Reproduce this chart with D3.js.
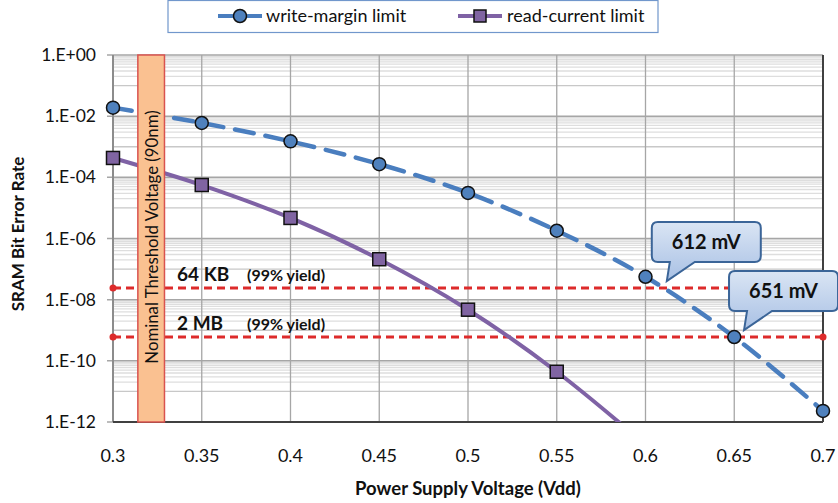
<!DOCTYPE html>
<html><head><meta charset="utf-8">
<script src="https://cdn.jsdelivr.net/npm/d3@7"></script>
<style>
body{margin:0;background:#fff;}
text{font-family:Lato,"Open Sans",sans-serif;}
</style></head>
<body><svg id="c" width="838" height="503"></svg>
<script>
const voltages = [0.3,0.35,0.4,0.45,0.5,0.55,0.6,0.65,0.7];
const writeMargin = [1.9e-2,6e-3,1.5e-3,2.7e-4,3.1e-5,1.8e-6,5.6e-8,6e-10,2.3e-12];
const readVolt = [0.3,0.35,0.4,0.45,0.5,0.55,0.6];
const readCurrent = [4.3e-4,5.6e-5,4.7e-6,2.1e-7,4.7e-9,4.4e-11,1.8e-13];
const xTicks = [0.3,0.35,0.4,0.45,0.5,0.55,0.6,0.65,0.7];
const yTicks = [1,1e-2,1e-4,1e-6,1e-8,1e-10,1e-12];
const yTickLabels = ["1.E+00","1.E-02","1.E-04","1.E-06","1.E-08","1.E-10","1.E-12"];
const yieldNames = ["64 KB","2 MB"];
const yieldValues = [2.4e-8,6e-10];
const calloutLabels = ["612 mV","651 mV"];
const calloutVolts = [0.612,0.651];
const calloutLines = [0,1];
const bandRange = [0.314,0.329];
const bandLabel = "Nominal Threshold Voltage (90nm)";

const svg = d3.select("#c");
const L=113,R=823,T=55,B=422;
const x = d3.scaleLinear().domain([0.3,0.7]).range([L,R]);
const y = d3.scaleLog().domain([1e-12,1]).range([B,T]);

svg.append("defs").append("clipPath").attr("id","clip")
  .append("rect").attr("x",L-10).attr("y",T-10).attr("width",R-L+20).attr("height",B-T+10);
const cg = svg.append("defs").append("linearGradient").attr("id","cfill").attr("x1",0).attr("y1",0).attr("x2",0).attr("y2",1);
cg.append("stop").attr("offset","0%").attr("stop-color","#dae5f4");
cg.append("stop").attr("offset","100%").attr("stop-color","#a8c0e4");

// minor gridlines at m*10^odd
const minor=[];
for (let e=-11;e<=-1;e+=2) for (let m=1;m<=9;m++) minor.push(m*Math.pow(10,e));
svg.append("g").selectAll("line").data(minor).join("line")
  .attr("x1",L).attr("x2",R).attr("y1",d=>y(d)).attr("y2",d=>y(d))
  .attr("stroke",d=>Math.abs(Math.log10(d)-Math.round(Math.log10(d)))<1e-9?"#c8c8c8":"#dedede").attr("stroke-width",1.3);
// major gridlines
svg.append("g").selectAll("line").data(yTicks).join("line")
  .attr("x1",L-6).attr("x2",R).attr("y1",d=>y(d)).attr("y2",d=>y(d))
  .attr("stroke","#a6a6a6").attr("stroke-width",1.5);
svg.append("g").selectAll("line").data(xTicks).join("line")
  .attr("x1",d=>x(d)).attr("x2",d=>x(d)).attr("y1",T).attr("y2",B)
  .attr("stroke","#a6a6a6").attr("stroke-width",1.3);

// frame
svg.append("line").attr("x1",L).attr("x2",L).attr("y1",T).attr("y2",B).attr("stroke","#8c8c8c").attr("stroke-width",2);
svg.append("line").attr("x1",R).attr("x2",R).attr("y1",T).attr("y2",B).attr("stroke","#404040").attr("stroke-width",2);
svg.append("line").attr("x1",L).attr("x2",R).attr("y1",B).attr("y2",B).attr("stroke","#404040").attr("stroke-width",2);

// tick labels
svg.append("g").selectAll("text").data(yTicks).join("text")
  .attr("x",96).attr("y",d=>y(d)).attr("dy","0.35em").attr("text-anchor","end")
  .attr("font-size",17.5).attr("fill","#111").text((d,i)=>yTickLabels[i]);
svg.append("g").selectAll("text").data(xTicks).join("text")
  .attr("x",d=>x(d)).attr("y",456).attr("dy","0.35em").attr("text-anchor","middle")
  .attr("font-size",18).attr("fill","#111").text(d=>String(d));

svg.append("text").attr("x",(L+R)/2).attr("y",495).attr("text-anchor","middle")
  .attr("font-size",18.5).attr("font-weight","bold").attr("fill","#111").text("Power Supply Voltage (Vdd)");
svg.append("text").attr("transform","translate(24,234) rotate(-90)").attr("text-anchor","middle")
  .attr("font-size",17).attr("font-weight","bold").attr("fill","#111").text("SRAM Bit Error Rate");

// yield lines
const red="#dd2b2b";
svg.append("g").selectAll("line").data(yieldValues).join("line")
  .attr("x1",L).attr("x2",R).attr("y1",d=>y(d)).attr("y2",d=>y(d))
  .attr("stroke",red).attr("stroke-width",3).attr("stroke-dasharray","8,5");
yieldValues.forEach(v=>{
  [L,R].forEach(px=>svg.append("circle").attr("cx",px).attr("cy",y(v)).attr("r",3.5).attr("fill",red));
});
yieldValues.forEach((v,i)=>{
  const t=svg.append("text").attr("x",177).attr("y",y(v)-7).attr("font-weight","bold").attr("fill","#111");
  t.append("tspan").attr("font-size",19).text(yieldNames[i]);
  t.append("tspan").attr("x",247).attr("font-size",16).text("(99% yield)");
});

// series
const line = d3.line().curve(d3.curveCatmullRom.alpha(0.5));
const gWrite = svg.append("g").attr("clip-path","url(#clip)");
gWrite.append("path").attr("d",line(voltages.map((v,i)=>[x(v),y(writeMargin[i])])))
  .attr("fill","none").attr("stroke","#4a7ebf").attr("stroke-width",4.5)
  .attr("stroke-dasharray","19,12").attr("stroke-linecap","round");
const gRead = svg.append("g").attr("clip-path","url(#clip)");
gRead.append("path").attr("d",line(readVolt.map((v,i)=>[x(v),y(readCurrent[i])])))
  .attr("fill","none").attr("stroke","#7f62a5").attr("stroke-width",4);
gWrite.selectAll("circle").data(voltages).join("circle")
  .attr("cx",d=>x(d)).attr("cy",(d,i)=>y(writeMargin[i])).attr("r",6.5)
  .attr("fill","#4f81bd").attr("stroke","#111").attr("stroke-width",1.5);
gRead.selectAll("rect").data(readVolt.filter((v,i)=>readCurrent[i]>=1e-12)).join("rect")
  .attr("x",d=>x(d)-6.5).attr("y",(d,i)=>y(readCurrent[i])-6.5).attr("width",13).attr("height",13)
  .attr("fill","#8064a2").attr("stroke","#111").attr("stroke-width",1.5);

// threshold band (on top)
svg.append("rect").attr("x",x(bandRange[0])).attr("y",T).attr("width",x(bandRange[1])-x(bandRange[0])).attr("height",B-T)
  .attr("fill","#fac191").attr("stroke","#d9534f").attr("stroke-width",1.5);
svg.append("text").attr("transform",`translate(${(x(bandRange[0])+x(bandRange[1]))/2+1},237) rotate(-90)`)
  .attr("text-anchor","middle").attr("dy","0.35em").attr("font-size",16.8).attr("fill","#111").text(bandLabel);

// callouts
calloutLabels.forEach((lab,i)=>{
  const tx = x(calloutVolts[i]) + (i===1?8:0);
  const ty = y(yieldValues[calloutLines[i]]) - 7;
  const l=tx-15, r=tx+94, t=ty-59, b=ty-19, rr=6;
  const p = `M${l+rr},${t} H${r-rr} Q${r},${t} ${r},${t+rr} V${b-rr} Q${r},${b} ${r-rr},${b} H${tx+28} L${tx},${ty} L${tx+3},${b} H${l+rr} Q${l},${b} ${l},${b-rr} V${t+rr} Q${l},${t} ${l+rr},${t} Z`;
  svg.append("path").attr("d",p).attr("fill","url(#cfill)").attr("stroke","#3b6598").attr("stroke-width",2);
  svg.append("text").attr("x",(l+r)/2).attr("y",(t+b)/2).attr("dy","0.36em").attr("text-anchor","middle")
    .attr("font-size",20).attr("font-weight","bold").attr("fill","#111").text(lab);
});

// legend
const lg = svg.append("g");
lg.append("rect").attr("x",168).attr("y",0.5).attr("width",490).attr("height",32).attr("fill","#fff").attr("stroke","#7197cc").attr("stroke-width",1.2);
lg.append("line").attr("x1",218).attr("x2",262).attr("y1",16).attr("y2",16).attr("stroke","#4a7ebf").attr("stroke-width",4);
lg.append("circle").attr("cx",240).attr("cy",16).attr("r",6.5).attr("fill","#4f81bd").attr("stroke","#111").attr("stroke-width",1.5);
lg.append("text").attr("x",266).attr("y",16).attr("dy","0.35em").attr("font-size",18).attr("fill","#111").text("write-margin limit");
lg.append("line").attr("x1",458).attr("x2",502).attr("y1",16).attr("y2",16).attr("stroke","#7f62a5").attr("stroke-width",4);
lg.append("rect").attr("x",474).attr("y",10).attr("width",12).attr("height",12).attr("fill","#8064a2").attr("stroke","#111").attr("stroke-width",1.5);
lg.append("text").attr("x",507).attr("y",16).attr("dy","0.35em").attr("font-size",18).attr("fill","#111").text("read-current limit");
</script></body></html>
